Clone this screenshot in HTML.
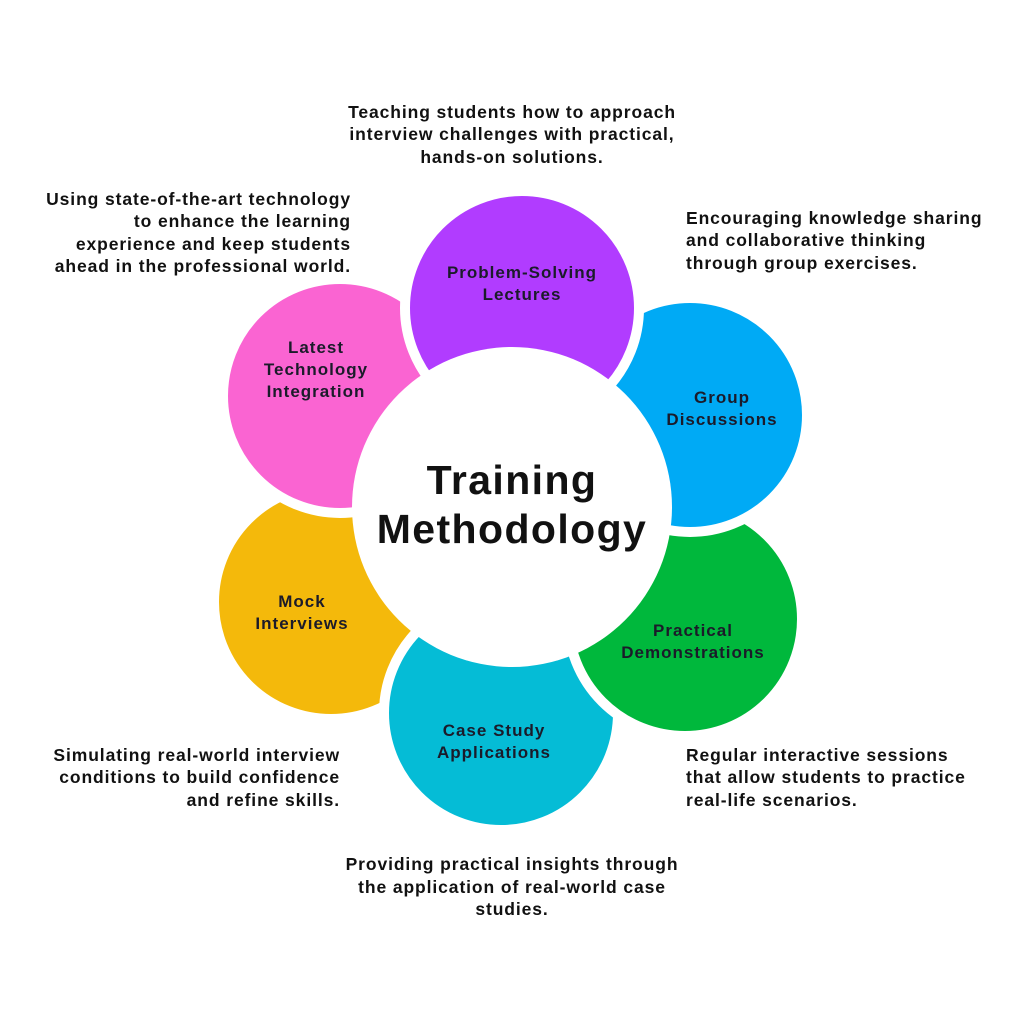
<!DOCTYPE html>
<html><head><meta charset="utf-8"><style>
html,body{margin:0;padding:0;background:#fff;}
svg{display:block;}
text{font-family:"Liberation Sans",sans-serif;font-weight:bold;fill:#111;}
.d{font-size:17.5px;letter-spacing:0.9px;}
.p{font-size:17px;fill:#1b1b2a;letter-spacing:1px;}
.t{font-size:41px;letter-spacing:1.4px;}
</style></head><body>
<svg width="1024" height="1024" viewBox="0 0 1024 1024">
<rect width="1024" height="1024" fill="#fff"/>
<g stroke="#fff" stroke-width="10">
<circle cx="331" cy="602" r="117" fill="#f4b90b"/>
<circle cx="501" cy="713" r="117" fill="#05bcd6"/>
<circle cx="685" cy="619" r="117" fill="#00b83c"/>
<circle cx="690" cy="415" r="117" fill="#00aaf5"/>
<circle cx="340" cy="396" r="117" fill="#fa64d2"/>
<circle cx="522" cy="308" r="117" fill="#b13cff"/>
</g>
<circle cx="512" cy="507" r="160" fill="#fff"/>
<text class="t" x="512" y="494" text-anchor="middle">Training</text>
<text class="t" x="512" y="543" text-anchor="middle">Methodology</text>
<g text-anchor="middle">
<text class="p" x="522" y="278">Problem-Solving</text>
<text class="p" x="522" y="300">Lectures</text>
<text class="p" x="722" y="403">Group</text>
<text class="p" x="722" y="425">Discussions</text>
<text class="p" x="693" y="636">Practical</text>
<text class="p" x="693" y="658">Demonstrations</text>
<text class="p" x="494" y="736">Case Study</text>
<text class="p" x="494" y="758">Applications</text>
<text class="p" x="302" y="607">Mock</text>
<text class="p" x="302" y="629">Interviews</text>
<text class="p" x="316" y="353">Latest</text>
<text class="p" x="316" y="375">Technology</text>
<text class="p" x="316" y="397">Integration</text>
</g>
<g text-anchor="middle">
<text class="d" x="512" y="118">Teaching students how to approach</text>
<text class="d" x="512" y="140">interview challenges with practical,</text>
<text class="d" x="512" y="163">hands-on solutions.</text>
<text class="d" x="512" y="870">Providing practical insights through</text>
<text class="d" x="512" y="893">the application of real-world case</text>
<text class="d" x="512" y="915">studies.</text>
</g>
<g text-anchor="end">
<text class="d" x="351" y="205">Using state-of-the-art technology</text>
<text class="d" x="351" y="227">to enhance the learning</text>
<text class="d" x="351" y="250">experience and keep students</text>
<text class="d" x="351" y="272">ahead in the professional world.</text>
<text class="d" x="340" y="761">Simulating real-world interview</text>
<text class="d" x="340" y="783">conditions to build confidence</text>
<text class="d" x="340" y="806">and refine skills.</text>
</g>
<g>
<text class="d" x="686" y="224">Encouraging knowledge sharing</text>
<text class="d" x="686" y="246">and collaborative thinking</text>
<text class="d" x="686" y="269">through group exercises.</text>
<text class="d" x="686" y="761">Regular interactive sessions</text>
<text class="d" x="686" y="783">that allow students to practice</text>
<text class="d" x="686" y="806">real-life scenarios.</text>
</g>
</svg>
</body></html>
